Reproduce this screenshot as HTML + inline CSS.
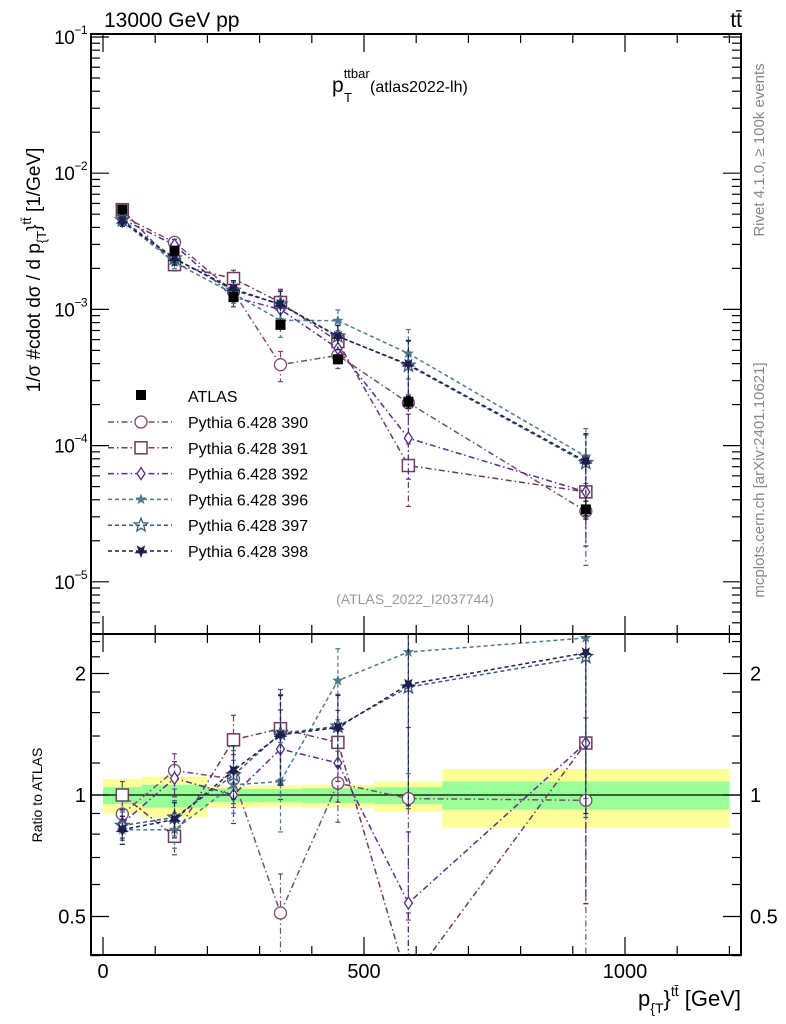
<!DOCTYPE html>
<html><head><meta charset="utf-8"><style>
body{margin:0;background:#fff;overflow:hidden;}
svg{display:block;font-family:"Liberation Sans",sans-serif;}
</style></head><body>
<svg id="c" width="786" height="1024" viewBox="0 0 786 1024" xmlns="http://www.w3.org/2000/svg">
<defs>
<clipPath id="cm"><rect x="91" y="34" width="650" height="600"/></clipPath>
<clipPath id="cr"><rect x="91" y="634" width="650" height="321"/></clipPath>
</defs>
<rect x="0" y="0" width="786" height="1024" fill="#fff"/>
<g id="bands" clip-path="url(#cr)"></g>
<g id="series-main" clip-path="url(#cm)"></g>
<g id="series-ratio" clip-path="url(#cr)"></g>
<g id="axes"></g>
<text x="104" y="27" font-size="21">13000 GeV pp</text>
<text x="742" y="27" font-size="21" text-anchor="end">tt̄</text>
<text x="332" y="92" font-size="21">p<tspan font-size="13" dy="-14">ttbar</tspan><tspan font-size="13" x="344" dy="24">T</tspan><tspan font-size="16" x="370" dy="-10">(atlas2022-lh)</tspan></text>
<text x="415" y="604" font-size="14" fill="#999" text-anchor="middle">(ATLAS_2022_I2037744)</text>
<text transform="translate(764,150) rotate(-90)" font-size="15" fill="#888" text-anchor="middle">Rivet 4.1.0, ≥ 100k events</text>
<text transform="translate(764,480) rotate(-90)" font-size="15" fill="#888" text-anchor="middle">mcplots.cern.ch [arXiv:2401.10621]</text>
<text transform="translate(40,270) rotate(-90)" font-size="19" text-anchor="middle">1/σ #cdot dσ / d p<tspan font-size="13" dy="6">{T</tspan><tspan dy="-6">}</tspan><tspan font-size="13" dy="-9">tt̄</tspan><tspan dy="9"> [1/GeV]</tspan></text>
<text transform="translate(42,795) rotate(-90)" font-size="14" text-anchor="middle">Ratio to ATLAS</text>
<text x="741" y="1006" font-size="22" text-anchor="end">p<tspan font-size="14" dy="7">{T</tspan><tspan dy="-7">}</tspan><tspan font-size="14" dy="-10">tt̄</tspan><tspan dy="10"> [GeV]</tspan></text>
<g id="legend"></g>
</svg>
<script>
const categories=[37,137,250,340,450,585,925];
const binEdges=[0,75,200,300,380,520,650,1200];
const atlasValues=[5.4e-3,2.7e-3,1.23e-3,7.7e-4,4.3e-4,2.1e-4,3.4e-5];
const atlasRelErr=[0.04,0.05,0.05,0.06,0.07,0.1,0.15];
const bandYellowHi=[1.095,1.11,1.05,1.055,1.06,1.08,1.16];
const bandYellowLo=[0.90,0.88,0.93,0.935,0.93,0.91,0.83];
const bandGreenHi=[1.046,1.06,1.035,1.035,1.04,1.046,1.08];
const bandGreenLo=[0.95,0.93,0.96,0.96,0.955,0.95,0.92];
const ratio390=[0.897,1.15,1.095,0.51,1.07,0.98,0.97];
const ratio391=[1.0,0.79,1.37,1.46,1.35,0.34,1.345];
const ratio392=[0.85,1.10,1.0,1.30,1.2,0.54,1.345];
const ratio396=[0.82,0.82,1.06,1.08,1.92,2.26,2.45];
const ratio397=[0.84,0.88,1.12,1.42,1.48,1.85,2.2];
const ratio398=[0.82,0.87,1.15,1.41,1.47,1.88,2.25];
const mcRelErr=[0.08,0.1,0.15,0.25,0.2,0.5,0.6];
const seriesNames=["Pythia 6.428 390","Pythia 6.428 391","Pythia 6.428 392","Pythia 6.428 396","Pythia 6.428 397","Pythia 6.428 398"];
const seriesColors=["#7a4a72","#6e3a5e","#5a2a8c","#4d7a88","#3a5a7c","#1c1f4c"];
const seriesDash=["6,3,1.5,3","6,3,1.5,3","6,3,1.5,3","4,3","4,3","4,3"];
const seriesMarkers=["circle","square","diamond","smallstar","openstar","bigstar"];
const xTicks=[0,500,1000];
const ratioTicks=[0.5,1,2];

const NS="http://www.w3.org/2000/svg";
const X0=91,X1=741,YT=34,YM=634,YB=955;
function x(v){return 103+v*0.522;}
function yMain(v){return 37+(-1-Math.log10(v))*136.2;}
function yRatio(v){return 795-Math.log2(v)*121.5;}
function mk(tag,attrs,parent){const e=document.createElementNS(NS,tag);for(const k in attrs)e.setAttribute(k,attrs[k]);parent.appendChild(e);return e;}
const bands=document.getElementById('bands');
for(let i=0;i<categories.length;i++){
  const r1=mk('rect',{x:x(binEdges[i]),y:yRatio(bandYellowHi[i]),width:x(binEdges[i+1])-x(binEdges[i]),height:yRatio(bandYellowLo[i])-yRatio(bandYellowHi[i]),fill:'#ffff99'},bands);
  
  
  const r2=mk('rect',{x:x(binEdges[i]),y:yRatio(bandGreenHi[i]),width:x(binEdges[i+1])-x(binEdges[i]),height:yRatio(bandGreenLo[i])-yRatio(bandGreenHi[i]),fill:'#99ff99'},bands);
  
  
}
mk('line',{x1:X0,x2:X1,y1:yRatio(1),y2:yRatio(1),stroke:'#000','stroke-width':1.2},bands);

function starPts(cx,cy,R,r,rot){let p=[];for(let k=0;k<10;k++){const a=rot+Math.PI*k/5;const rr=k%2?r:R;p.push((cx+rr*Math.sin(a)).toFixed(1)+','+(cy-rr*Math.cos(a)).toFixed(1));}return p.join(' ');}
function marker(type,cx,cy,col,g){
  let e;
  if(type==='circle')e=mk('circle',{cx,cy,r:6,fill:'#fff',stroke:col,'stroke-width':1.3},g);
  else if(type==='square')e=mk('rect',{x:cx-6,y:cy-6,width:12,height:12,fill:'#fff',stroke:col,'stroke-width':1.5},g);
  else if(type==='diamond')e=mk('polygon',{points:`${cx},${cy-6} ${cx+4},${cy} ${cx},${cy+6} ${cx-4},${cy}`,fill:'#fff',stroke:col,'stroke-width':1.3},g);
  else if(type==='smallstar')e=mk('polygon',{points:starPts(cx,cy,6,2.5,0),fill:col},g);
  else if(type==='openstar')e=mk('polygon',{points:starPts(cx,cy,7,3,0),fill:'none',stroke:col,'stroke-width':1.3},g);
  else if(type==='bigstar')e=mk('polygon',{points:starPts(cx,cy,7,3,Math.PI),fill:col},g);
  else e=mk('rect',{x:cx-5,y:cy-5,width:10,height:10,fill:'#000'},g);
  return e;
}
function errbar(g,cx,y1,y2,col,dash){
  mk('line',{x1:cx,x2:cx,y1,y2,stroke:col,'stroke-width':1.2,'stroke-dasharray':dash},g);
  mk('line',{x1:cx-2.5,x2:cx+2.5,y1,y2:y1,stroke:col,'stroke-width':1.2},g);
  mk('line',{x1:cx-2.5,x2:cx+2.5,y1:y2,y2:y2,stroke:col,'stroke-width':1.2},g);
}
const ratios=[ratio390,ratio391,ratio392,ratio396,ratio397,ratio398];
const gm=document.getElementById('series-main'),gr=document.getElementById('series-ratio');
ratios.forEach((rat,s)=>{
  const col=seriesColors[s],dash=seriesDash[s];
  const vals=rat.map((r,i)=>r*atlasValues[i]);
  const g1=mk('g',{},gm);
  
  
  const g2=mk('g',{},gr);
  
  
  mk('polyline',{points:vals.map((v,i)=>x(categories[i])+','+yMain(v)).join(' '),fill:'none',stroke:col,'stroke-width':1.5,'stroke-dasharray':dash},g1);
  mk('polyline',{points:rat.map((v,i)=>x(categories[i])+','+yRatio(v)).join(' '),fill:'none',stroke:col,'stroke-width':1.5,'stroke-dasharray':dash},g2);
  vals.forEach((v,i)=>{
    const e=mcRelErr[i];
    errbar(g1,x(categories[i]),yMain(v*(1+e)),yMain(v*Math.max(0.05,1-e)),col,dash);
    errbar(g2,x(categories[i]),yRatio(rat[i]*(1+e)),yRatio(rat[i]*Math.max(0.05,1-e)),col,dash);
    const m1=marker(seriesMarkers[s],x(categories[i]),yMain(v),col,g1);
    
    
    const m2=marker(seriesMarkers[s],x(categories[i]),yRatio(rat[i]),col,g2);
    
    
  });
});
const ga=mk('g',{},gm);


atlasValues.forEach((v,i)=>{
  errbar(ga,x(categories[i]),yMain(v*(1+atlasRelErr[i])),yMain(v*(1-atlasRelErr[i])),'#000','');
  const m=marker('data',x(categories[i]),yMain(v),'#000',ga);
  
  
});

const ax=document.getElementById('axes');
mk('rect',{x:X0,y:YT,width:X1-X0,height:YM-YT,fill:'none',stroke:'#000','stroke-width':2},ax);
mk('rect',{x:X0,y:YM,width:X1-X0,height:YB-YM,fill:'none',stroke:'#000','stroke-width':2},ax);
for(let v=0;v<=1200;v+=100){
  const big=v%500===0, L=big?18:9;
  [[YT,1],[YM,-1],[YM,1],[YB,-1]].forEach(([yy,d])=>mk('line',{x1:x(v),x2:x(v),y1:yy,y2:yy+d*L,stroke:'#000','stroke-width':1.2},ax));
}
xTicks.forEach(v=>{const t=mk('text',{x:x(v),y:978,'font-size':20,'text-anchor':'middle'},ax);t.textContent=v;

});
for(let e=-6;e<=-1;e++){
  for(let m=1;m<10;m++){const v=m*Math.pow(10,e);const yy=yMain(v);if(yy<YT||yy>YM)continue;
    const L=m===1?18:9;
    mk('line',{x1:X0,x2:X0+L,y1:yy,y2:yy,stroke:'#000','stroke-width':1.2},ax);
    mk('line',{x1:X1,x2:X1-L,y1:yy,y2:yy,stroke:'#000','stroke-width':1.2},ax);
  }
  const yy=yMain(Math.pow(10,e));if(yy<YT||yy>YM)continue;
  const t=mk('text',{x:87,y:yy+7,'font-size':19,'text-anchor':'end','letter-spacing':'-0.5'},ax);
  t.innerHTML='10<tspan font-size="12" dy="-10">−'+(-e)+'</tspan>';
  
  
}
[0.4,0.5,0.6,0.7,0.8,0.9,1,1.2,1.4,1.6,1.8,2,2.2,2.4].forEach(v=>{const yy=yRatio(v);const L=ratioTicks.includes(v)?18:9;
  mk('line',{x1:X0,x2:X0+L,y1:yy,y2:yy,stroke:'#000','stroke-width':1.2},ax);
  mk('line',{x1:X1,x2:X1-L,y1:yy,y2:yy,stroke:'#000','stroke-width':1.2},ax);});
ratioTicks.forEach(v=>{const yy=yRatio(v);
  const t1=mk('text',{x:86,y:yy+7,'font-size':20,'text-anchor':'end'},ax);t1.textContent=v;
  
  
  const t2=mk('text',{x:750,y:yy+7,'font-size':20},ax);t2.textContent=v;
  
  });

const lg=document.getElementById('legend');
const la=mk('rect',{x:136,y:390,width:10,height:10,fill:'#000'},lg);


const lt=mk('text',{x:188,y:402,'font-size':16},lg);lt.textContent='ATLAS';


seriesNames.forEach((n,s)=>{const yy=422+s*25.8;
  mk('line',{x1:108,x2:172,y1:yy,y2:yy,stroke:seriesColors[s],'stroke-width':1.5,'stroke-dasharray':seriesDash[s]},lg);
  marker(seriesMarkers[s],141,yy,seriesColors[s],lg);
  const t=mk('text',{x:188,y:yy+6,'font-size':16},lg);t.textContent=n;
  
  });
</script>
</body></html>
